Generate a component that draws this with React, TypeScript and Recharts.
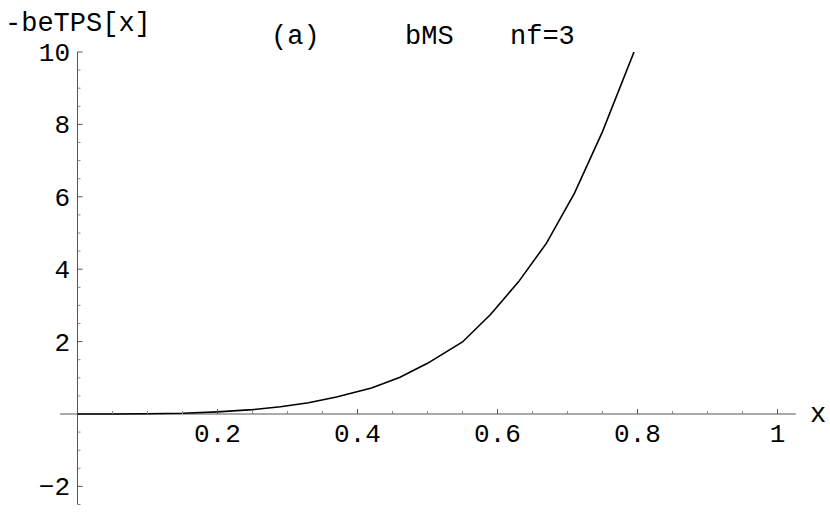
import { LineChart, Line, XAxis, YAxis, ReferenceLine } from "recharts";

const xValues = [0, 0.05, 0.1, 0.15, 0.2, 0.25, 0.29, 0.33, 0.37, 0.42, 0.46, 0.5, 0.55, 0.59, 0.63, 0.67, 0.71, 0.75, 0.795];
const betps = [0, 0.0, 0.005, 0.02, 0.06, 0.12, 0.2, 0.31, 0.47, 0.72, 1.01, 1.4, 1.99, 2.75, 3.65, 4.72, 6.1, 7.8, 10];

const xTicks = [0.05, 0.1, 0.15, 0.2, 0.25, 0.3, 0.35, 0.4, 0.45, 0.5, 0.55, 0.6, 0.65, 0.7, 0.75, 0.8, 0.85, 0.9, 0.95, 1];
const xMajor = [0.2, 0.4, 0.6, 0.8, 1];
const yTicks = [-2.5, -2, -1.5, -1, -0.5, 0.5, 1, 1.5, 2, 2.5, 3, 3.5, 4, 4.5, 5, 5.5, 6, 6.5, 7, 7.5, 8, 8.5, 9, 9.5, 10];
const yMajor = [-2, 2, 4, 6, 8, 10];

const data = xValues.map((x, i) => ({ x, y: betps[i] }));

const W = 830;
const H = 513;
const M = { top: 52, right: 34.3, bottom: 7.5, left: 59 };
const X_MIN = -0.025, X_MAX = 1.026, Y_MIN = -2.5, Y_MAX = 10;
const PLOT_LEFT = M.left + 1;
const PLOT_BOTTOM = H - M.bottom - 1;
const zeroX = PLOT_LEFT + ((0 - X_MIN) / (X_MAX - X_MIN)) * (W - M.right - PLOT_LEFT);
const zeroY = M.top + (Y_MAX / (Y_MAX - Y_MIN)) * (PLOT_BOTTOM - M.top);

const FONT = "'Liberation Mono', 'DejaVu Sans Mono', monospace";
const AXIS = "#555";

const isMajor = (list: number[], v: number) => list.some((m) => Math.abs(m - v) < 1e-6);

const renderXTick = (props: any) => {
    const { x, payload } = props;
    const major = isMajor(xMajor, payload.value);
    return (
        <g key={"xt" + payload.value}>
            <line x1={x} x2={x} y1={zeroY} y2={zeroY - (major ? 5 : 3)} stroke={major ? AXIS : "#888"} strokeWidth={1} />
            {major && (
                <text x={x} y={zeroY + 28} textAnchor="middle" fontFamily={FONT} fontSize={26} fill="#000">
                    {String(payload.value)}
                </text>
            )}
        </g>
    );
};

const renderYTick = (props: any) => {
    const { y, payload } = props;
    const major = isMajor(yMajor, payload.value);
    return (
        <g key={"yt" + payload.value}>
            <line x1={zeroX} x2={zeroX + (major ? 5 : 3)} y1={y} y2={y} stroke={major ? AXIS : "#888"} strokeWidth={1} />
            {major && (
                <text x={70} y={y + 9} textAnchor="end" fontFamily={FONT} fontSize={26} fill="#000">
                    {payload.value < 0 ? "\u2212" + Math.abs(payload.value) : String(payload.value)}
                </text>
            )}
        </g>
    );
};

export default function App() {
    return (
        <div style={{ position: "absolute", left: 0, top: 0, width: W, height: H, background: "#fff" }}>
            <LineChart width={W} height={H} data={data} margin={M}>
                <XAxis dataKey="x" type="number" domain={[X_MIN, X_MAX]} ticks={xTicks} interval={0} height={1}
                    axisLine={false} tickLine={false} tick={renderXTick} allowDataOverflow />
                <YAxis type="number" domain={[Y_MIN, Y_MAX]} ticks={yTicks} interval={0} width={1}
                    axisLine={false} tickLine={false} tick={renderYTick} allowDataOverflow />
                <ReferenceLine y={0} stroke={AXIS} strokeWidth={1} />
                <ReferenceLine x={0} stroke={AXIS} strokeWidth={1} />
                <Line dataKey="y" type="linear" stroke="#000" strokeWidth={1.6} dot={false} isAnimationActive={false} />
            </LineChart>
            <svg width={W} height={H} style={{ position: "absolute", left: 0, top: 0, pointerEvents: "none" }}>
                <g fontFamily={FONT} fontSize={27} fill="#000">
                    <text x={5} y={31}>-beTPS[x]</text>
                    <text x={271} y={44}>(a)</text>
                    <text x={405} y={44}>bMS</text>
                    <text x={510} y={44}>nf=3</text>
                    <text x={810} y={422}>x</text>
                </g>
            </svg>
        </div>
    );
}
